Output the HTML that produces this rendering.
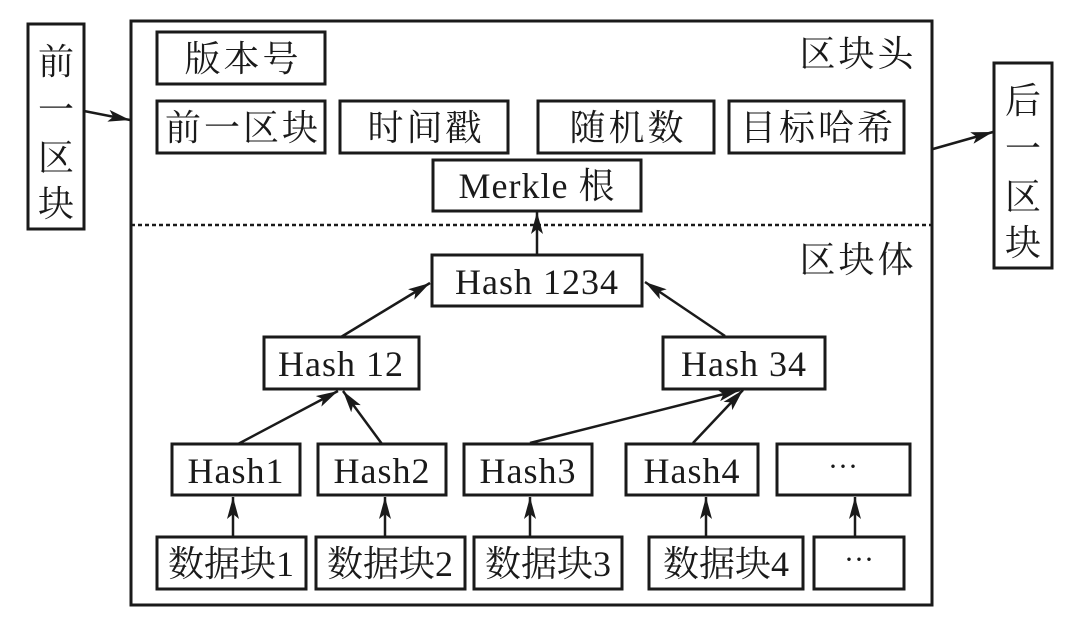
<!DOCTYPE html>
<html><head><meta charset="utf-8"><style>
html,body{margin:0;padding:0;background:#fff;}
svg text{font-family:"Liberation Serif","Noto Serif CJK SC",serif;fill:#1a1a1a;}
.c{letter-spacing:3px;}
.l{letter-spacing:1px;}
</style></head><body>
<svg width="1080" height="626" viewBox="0 0 1080 626" xmlns="http://www.w3.org/2000/svg">
<defs>
<marker id="a" viewBox="0 0 22 12" refX="22" refY="6" markerWidth="22" markerHeight="12" markerUnits="userSpaceOnUse" orient="auto">
<path d="M0,0 L22,6 L0,12 L5,6 Z" fill="#1a1a1a"/></marker>
</defs>
<g fill="none" stroke="#1a1a1a" stroke-width="3">
<rect x="131" y="21" width="801" height="584"/>
<rect x="28" y="24" width="56" height="205"/>
<rect x="994" y="63" width="58" height="205"/>
<rect x="157" y="32" width="168" height="52"/>
<rect x="157" y="101" width="168" height="52"/>
<rect x="340" y="101" width="168" height="52"/>
<rect x="538" y="101" width="176" height="52"/>
<rect x="729" y="101" width="175" height="52"/>
<rect x="433" y="160" width="208" height="51"/>
<rect x="432" y="255" width="210" height="51"/>
<rect x="264" y="337" width="155" height="52"/>
<rect x="663" y="337" width="162" height="52"/>
<rect x="172" y="444" width="128" height="51"/>
<rect x="318" y="444" width="128" height="51"/>
<rect x="464" y="444" width="128" height="51"/>
<rect x="626" y="444" width="132" height="51"/>
<rect x="777" y="444" width="133" height="51"/>
<rect x="157" y="537" width="149" height="52"/>
<rect x="316" y="537" width="149" height="52"/>
<rect x="474" y="537" width="148" height="52"/>
<rect x="649" y="537" width="154" height="52"/>
<rect x="814" y="537" width="90" height="52"/>
</g>
<line x1="131" y1="225" x2="932" y2="225" stroke="#1a1a1a" stroke-width="2.5" stroke-dasharray="4,3"/>
<g stroke="#1a1a1a" stroke-width="2.5" marker-end="url(#a)">
<line x1="84" y1="111" x2="130" y2="120"/>
<line x1="933" y1="149" x2="993" y2="132"/>
<line x1="537" y1="255" x2="537" y2="212"/>
<line x1="341" y1="337" x2="430" y2="283"/>
<line x1="725" y1="336" x2="645" y2="282"/>
<line x1="238" y1="444" x2="338" y2="391"/>
<line x1="382" y1="444" x2="343" y2="391"/>
<line x1="530" y1="443" x2="740" y2="390"/>
<line x1="693" y1="443" x2="743" y2="390"/>
<line x1="233" y1="537" x2="233" y2="497"/>
<line x1="385" y1="537" x2="385" y2="497"/>
<line x1="530" y1="537" x2="530" y2="497"/>
<line x1="706" y1="537" x2="706" y2="497"/>
<line x1="855" y1="537" x2="855" y2="497"/>
</g>
<g font-size="36" text-anchor="middle">
<text x="56" y="74">前</text>
<text x="56" y="122">一</text>
<text x="56" y="170">区</text>
<text x="56" y="216">块</text>
<text x="1023" y="113">后</text>
<text x="1023" y="161">一</text>
<text x="1023" y="209">区</text>
<text x="1023" y="255">块</text>
<text class="c" x="243" y="71">版本号</text>
<text class="c" x="243" y="140">前一区块</text>
<text class="c" x="426" y="140">时间戳</text>
<text class="c" x="628" y="140">随机数</text>
<text class="c" x="818" y="140">目标哈希</text>
<text class="c" x="858" y="66">区块头</text>
<text class="c" x="858" y="272">区块体</text>
<text class="l" x="537" y="198">Merkle 根</text>
<text class="l" x="537" y="294">Hash 1234</text>
<text class="l" x="341" y="376">Hash 12</text>
<text class="l" x="744" y="376">Hash 34</text>
<text class="l" x="236" y="483">Hash1</text>
<text class="l" x="382" y="483">Hash2</text>
<text class="l" x="528" y="483">Hash3</text>
<text class="l" x="692" y="483">Hash4</text>
<text x="843" y="476" font-size="30">···</text>
<text x="231" y="576">数据块1</text>
<text x="390" y="576">数据块2</text>
<text x="548" y="576">数据块3</text>
<text x="726" y="576">数据块4</text>
<text x="859" y="569" font-size="30">···</text>
</g>
</svg>
</body></html>
